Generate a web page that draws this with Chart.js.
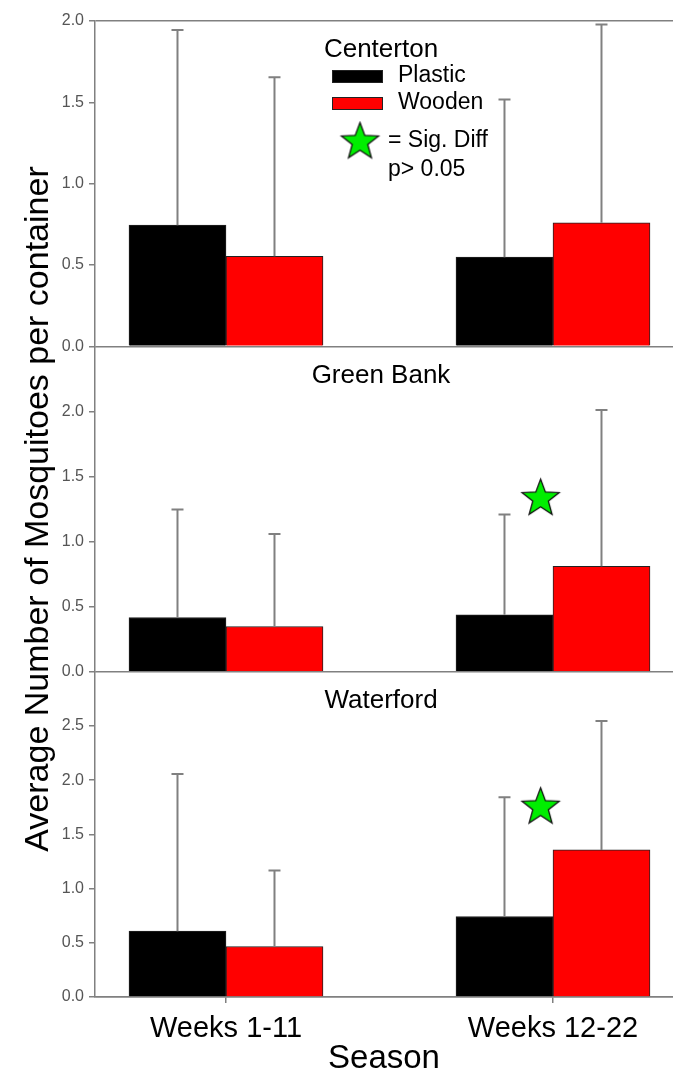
<!DOCTYPE html>
<html>
<head>
<meta charset="utf-8">
<script src="https://cdn.jsdelivr.net/npm/chart.js@4.4.1/dist/chart.umd.min.js"></script>
<style>
  body { margin: 0; background: #fff; }
  #wrap { width: 673px; height: 1077px; }
</style>
</head>
<body>
<div id="wrap"><canvas id="chart" width="673" height="1077"></canvas></div>
<script>
const seasons = ['Weeks 1-11', 'Weeks 12-22'];
const seasonPos = [1, 2];
const sites = ['Centerton', 'Green Bank', 'Waterford'];
const containers = ['Plastic', 'Wooden'];

// mean and sd, one value per season
const centertonPlastic = [0.745, 0.548];
const centertonPlasticSd = [1.20, 0.97];
const centertonWooden = [0.554, 0.759];
const centertonWoodenSd = [1.10, 1.22];
const greenBankPlastic = [0.416, 0.437];
const greenBankPlasticSd = [0.83, 0.77];
const greenBankWooden = [0.347, 0.81];
const greenBankWoodenSd = [0.71, 1.20];
const waterfordPlastic = [0.607, 0.742];
const waterfordPlasticSd = [1.45, 1.10];
const waterfordWooden = [0.466, 1.356];
const waterfordWoodenSd = [0.70, 1.19];

// significance stars (over Weeks 12-22)
const sigX = [1.962];
const sigGreenBank = [1.33];
const sigWaterford = [1.75];

const centertonTicks = [0, 0.5, 1, 1.5, 2];
const greenBankTicks = [0, 0.5, 1, 1.5, 2];
const waterfordTicks = [0, 0.5, 1, 1.5, 2, 2.5];

const FONT = "'Liberation Sans', Arial, sans-serif";
const gray = '#808080';
const colors = ['#000000', '#ff0000'];

function makeStar(R) {
  const c = document.createElement('canvas');
  const s = Math.ceil(R * 2 + 4);
  c.width = s; c.height = s;
  const g = c.getContext('2d');
  const r = R * 0.42;
  g.beginPath();
  for (let i = 0; i < 10; i++) {
    const rad = i % 2 ? r : R;
    const a = -Math.PI / 2 + i * Math.PI / 5;
    g.lineTo(s / 2 + rad * Math.cos(a), s / 2 + rad * Math.sin(a));
  }
  g.closePath();
  g.fillStyle = '#00ee00';
  g.fill();
  g.lineWidth = 1.3;
  g.strokeStyle = '#111';
  g.stroke();
  return c;
}
const star = makeStar(19.5);

function barSet(k, values, sd, axis) {
  return {
    type: 'bar', label: containers[k], stack: containers[k], yAxisID: axis,
    data: values.map((v, i) => ({ x: seasonPos[i], y: v })),
    sd: sd,
    backgroundColor: colors[k], borderColor: '#222', borderWidth: 1,
    barThickness: 97
  };
}

function starSet(ys, axis) {
  return {
    type: 'scatter', label: 'sig', yAxisID: axis,
    data: ys.map((v, i) => ({ x: sigX[i], y: v })),
    pointStyle: star, pointRadius: 20
  };
}

function yScale(ticksArr, max, weight, title) {
  return {
    type: 'linear', position: 'left', stack: 'sites', stackWeight: 1, weight: weight,
    min: 0, max: max, stacked: false,
    afterBuildTicks: s => { s.ticks = ticksArr.map(v => ({ value: v })); },
    afterFit: s => { s.width = 95; s.paddingTop = 0; s.paddingBottom = 0; },
    ticks: { callback: v => v.toFixed(1), font: { size: 16, family: FONT }, color: '#555', padding: 5, autoSkip: false },
    grid: {
      color: c => (c.tick && (c.tick.value === 0 || (weight === 3 && c.tick.value === max))) ? gray : 'rgba(0,0,0,0)',
      tickColor: gray, tickLength: 6, lineWidth: 1.5
    },
    border: { color: gray, width: 1.5 },
    title: title || { display: false }
  };
}

const extras = {
  id: 'extras',
  afterDatasetsDraw(chart) {
    const ctx = chart.ctx;
    ctx.save();
    ctx.strokeStyle = gray;
    ctx.lineWidth = 2;
    chart.data.datasets.forEach((ds, di) => {
      if (!ds.sd) return;
      const meta = chart.getDatasetMeta(di);
      const ys = chart.scales[ds.yAxisID];
      meta.data.forEach((bar, i) => {
        const top = ys.getPixelForValue(ds.data[i].y + ds.sd[i]);
        ctx.beginPath();
        ctx.moveTo(bar.x, bar.y);
        ctx.lineTo(bar.x, top);
        ctx.moveTo(bar.x - 6, top);
        ctx.lineTo(bar.x + 6, top);
        ctx.stroke();
      });
    });
    ctx.restore();
  },
  afterDraw(chart) {
    const ctx = chart.ctx;
    const a = chart.chartArea;
    ctx.save();
    ctx.fillStyle = '#000';
    ctx.textBaseline = 'middle';
    ctx.textAlign = 'center';
    ctx.font = '26px ' + FONT;
    ['yTop', 'yMid', 'yBot'].forEach((id, i) => {
      ctx.fillText(sites[i], a.left + 286, chart.scales[id].top + 29);
    });

    // legend in the top panel
    const lx = a.left + 237, ly = a.top + 49;
    ctx.textAlign = 'left';
    ctx.font = '23px ' + FONT;
    containers.forEach((name, k) => {
      const y = ly + k * 27;
      ctx.fillStyle = colors[k];
      ctx.fillRect(lx, y, 51, 13);
      ctx.strokeStyle = '#222';
      ctx.lineWidth = 1;
      ctx.strokeRect(lx + 0.5, y + 0.5, 50, 12);
      ctx.fillStyle = '#000';
      ctx.fillText(name, lx + 66, y + 6);
    });
    ctx.drawImage(star, lx + 28 - star.width / 2, ly + 72 - star.height / 2);
    ctx.fillText('= Sig. Diff', lx + 56, ly + 71);
    ctx.fillText('p> 0.05', lx + 56, ly + 100);
    ctx.restore();
  }
};

new Chart(document.getElementById('chart'), {
  type: 'bar',
  data: {
    datasets: [
      barSet(0, centertonPlastic, centertonPlasticSd, 'yTop'),
      barSet(1, centertonWooden, centertonWoodenSd, 'yTop'),
      barSet(0, greenBankPlastic, greenBankPlasticSd, 'yMid'),
      barSet(1, greenBankWooden, greenBankWoodenSd, 'yMid'),
      barSet(0, waterfordPlastic, waterfordPlasticSd, 'yBot'),
      barSet(1, waterfordWooden, waterfordWoodenSd, 'yBot'),
      starSet(sigGreenBank, 'yMid'),
      starSet(sigWaterford, 'yBot')
    ]
  },
  options: {
    responsive: false,
    animation: false,
    events: [],
    layout: { autoPadding: false, padding: { top: 21, left: 0, right: 0, bottom: 0 } },
    plugins: { legend: { display: false }, tooltip: { enabled: false } },
    scales: {
      x: {
        type: 'linear', min: 0.5994, max: 2.367, offset: false,
        afterBuildTicks: s => { s.ticks = seasonPos.map(v => ({ value: v })); },
        afterFit: s => { s.height = 80; s.paddingLeft = 0; s.paddingRight = 0; },
        ticks: {
          callback: v => seasons[seasonPos.indexOf(v)],
          font: { size: 29, family: FONT, lineHeight: 1 }, color: '#000',
          padding: 11, autoSkip: false, maxRotation: 0
        },
        grid: { offset: false, drawOnChartArea: false, tickLength: 6, color: gray, lineWidth: 1.5 },
        border: { color: gray, width: 1.5 },
        title: {
          display: true, text: 'Season', color: '#000',
          font: { size: 33, family: FONT, lineHeight: 1 }, padding: { top: 0, bottom: 2 }
        }
      },
      yTop: yScale(centertonTicks, 2, 3),
      yMid: yScale(greenBankTicks, 2.5, 2, {
        display: true, text: 'Average Number of Mosquitoes per container', color: '#000',
        font: { size: 34, family: FONT, lineHeight: 1 }, padding: { top: 22, bottom: 0 }
      }),
      yBot: yScale(waterfordTicks, 3, 1)
    }
  },
  plugins: [extras]
});
</script>
</body>
</html>
